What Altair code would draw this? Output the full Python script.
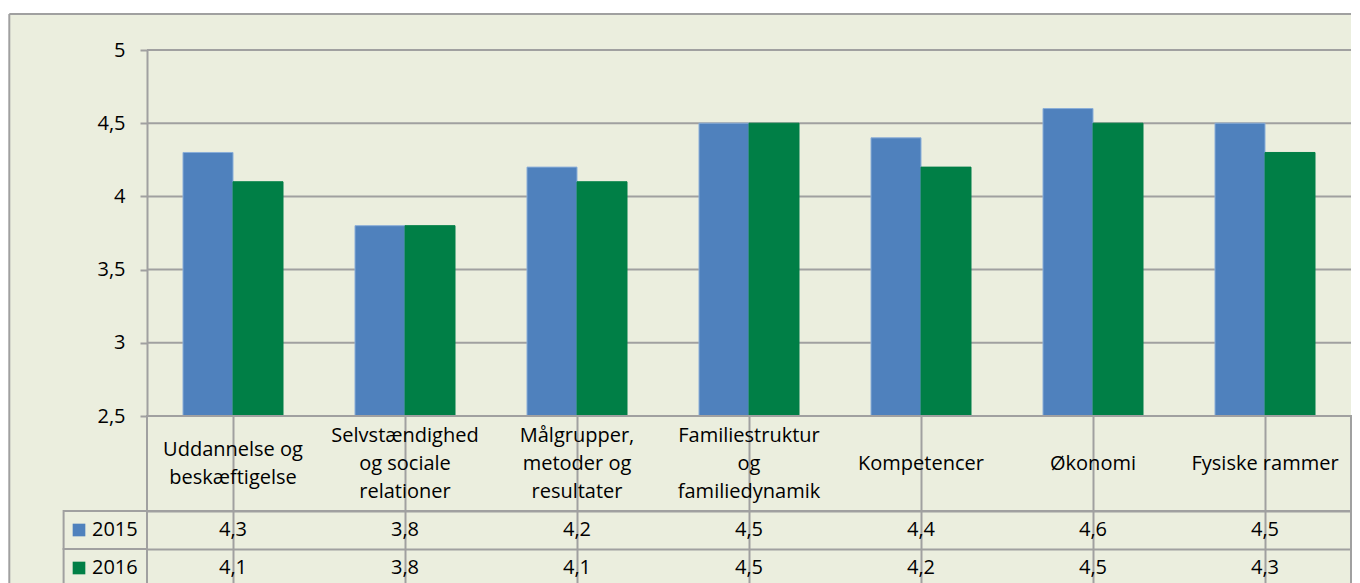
import altair as alt
import pandas as pd

# ---------------- data ----------------
cat_lines = [
    ["Uddannelse og", "beskæftigelse"],
    ["Selvstændighed", "og sociale", "relationer"],
    ["Målgrupper,", "metoder og", "resultater"],
    ["Familiestruktur", "og", "familiedynamik"],
    ["Kompetencer"],
    ["Økonomi"],
    ["Fysiske rammer"],
]
categories = [" ".join(l) for l in cat_lines]
header_labels = ["\n".join(l) for l in cat_lines]
header_nlines = [len(l) for l in cat_lines]
years = ["2015", "2016"]
values_2015 = [4.3, 3.8, 4.2, 4.5, 4.4, 4.6, 4.5]
values_2016 = [4.1, 3.8, 4.1, 4.5, 4.2, 4.5, 4.3]
y_ticks = [2.5, 3, 3.5, 4, 4.5, 5]

# ---------------- styles ----------------
colors = ["#4F81BD", "#007F46"]
bar_strokes = ["#8AAED8", "#007F46"]
FONT = "Open Sans"
FS = 20
LH = 28
GRID = "#A0A0A0"
BG = "#EBEEDE"
W = 1204
H_TOP = 366
H_HEAD = 95
H_ROWS = 76
LEFT_EXT = 137.7   # frame left edge, relative to plot area
TOP_EXT = 36       # frame top edge, relative to plot area

rows = []
for yr, vals in zip(years, [values_2015, values_2016]):
    for c, v in zip(categories, vals):
        rows.append({"cat": c, "year": yr, "value": v})
df = pd.DataFrame(rows)

cat_scale = alt.Scale(domain=categories, paddingInner=0, paddingOuter=0)
yscale = alt.Scale(domain=[2.5, 5], nice=False, zero=False)
yaxis = alt.Axis(values=y_ticks, grid=False, domainColor=GRID, domainWidth=2,
                 tickColor=GRID, tickWidth=2, tickSize=7, labelFont=FONT,
                 labelFontSize=FS, labelColor="black", labelPadding=15,
                 labelExpr="replace(toString(datum.value), '.', ',')",
                 title=None, zindex=1)
color_enc = alt.Color("year:N", scale=alt.Scale(domain=years, range=colors), legend=None)
grid_axis = dict(grid=True, bandPosition=0, gridColor=GRID, gridWidth=2,
                 labels=False, ticks=False, domain=False, title=None)

one = pd.DataFrame({"f": [0]})
H_ALL = H_TOP + H_HEAD + H_ROWS

# ---------------- top: bars ----------------
frame = alt.Chart(one).mark_rect(fill=BG, strokeWidth=0).encode(
    x=alt.value(-LEFT_EXT), x2=alt.value(W),
    y=alt.value(-TOP_EXT), y2=alt.value(H_ALL))
frame_top = alt.Chart(one).mark_rule(color=GRID, strokeWidth=2).encode(
    x=alt.value(-LEFT_EXT), x2=alt.value(W), y=alt.value(-TOP_EXT))
frame_left = alt.Chart(one).mark_rule(color=GRID, strokeWidth=2).encode(
    x=alt.value(-LEFT_EXT), y=alt.value(-TOP_EXT), y2=alt.value(H_ALL))

grid = alt.Chart(pd.DataFrame({"t": y_ticks})).mark_rule(
    color=GRID, strokeWidth=2
).encode(y=alt.Y("t:Q", scale=yscale, axis=yaxis))

bars = alt.Chart(df).mark_bar(strokeWidth=1).encode(
    x=alt.X("cat:N", sort=categories, scale=cat_scale, axis=None),
    xOffset=alt.XOffset("year:N", sort=years,
                        scale=alt.Scale(paddingInner=0, paddingOuter=0.72)),
    y=alt.Y("value:Q", scale=yscale, axis=yaxis),
    y2=alt.datum(2.5),
    color=color_enc,
    stroke=alt.Stroke("year:N", scale=alt.Scale(domain=years, range=bar_strokes), legend=None),
)

top = alt.layer(frame, frame_top, frame_left, grid, bars).properties(
    width=W, height=H_TOP, view=alt.ViewBackground(stroke=None))

# ---------------- header row ----------------
header_df = pd.DataFrame({"cat": categories, "label": header_labels, "n": header_nlines})
header_layers = []
for n in sorted(set(header_nlines)):
    header_layers.append(
        alt.Chart(header_df).transform_filter(alt.datum.n == n).mark_text(
            font=FONT, fontSize=FS, lineBreak="\n", lineHeight=LH,
            baseline="middle", align="center", color="black",
            dy=-(n - 1) * LH / 2,
        ).encode(
            x=alt.X("cat:N", sort=categories, scale=cat_scale, axis=alt.Axis(**grid_axis)),
            text="label:N",
        )
    )
header = alt.layer(*header_layers).properties(
    width=W, height=H_HEAD, view=alt.ViewBackground(stroke=GRID, strokeWidth=2))

# ---------------- data rows ----------------
y_rows = alt.Y("year:N", sort=years,
               scale=alt.Scale(domain=years, paddingInner=0, paddingOuter=0),
               axis=alt.Axis(**grid_axis))

leg_df = pd.DataFrame({"year": years})
leg_cells = alt.Chart(leg_df).mark_rect(
    fill="transparent", stroke=GRID, strokeWidth=2
).encode(x=alt.value(-83.4), x2=alt.value(0), y=y_rows)

leg_sq = alt.Chart(leg_df).mark_point(
    shape="square", filled=True, size=160, opacity=1
).encode(x=alt.value(-68), y=y_rows, color=color_enc)

leg_txt = alt.Chart(leg_df).mark_text(
    font=FONT, fontSize=FS, align="left", baseline="middle", color="black"
).encode(x=alt.value(-55), y=y_rows, text="year:N")

vals_txt = alt.Chart(df).transform_calculate(
    lbl="replace(format(datum.value, '.1f'), '.', ',')"
).mark_text(
    font=FONT, fontSize=FS, align="center", baseline="middle", color="black"
).encode(
    x=alt.X("cat:N", sort=categories, scale=cat_scale, axis=alt.Axis(**grid_axis)),
    y=y_rows,
    text="lbl:N",
)

rows_chart = alt.layer(leg_cells, leg_sq, leg_txt, vals_txt).properties(
    width=W, height=H_ROWS, view=alt.ViewBackground(stroke=GRID, strokeWidth=2))

chart = alt.vconcat(top, header, rows_chart, spacing=0, bounds="flush").properties(
    padding={"left": 0, "top": 5, "right": 0, "bottom": 0}
).configure(background="white")

chart.save("out.html", embed_options={"renderer": "svg", "actions": False})
